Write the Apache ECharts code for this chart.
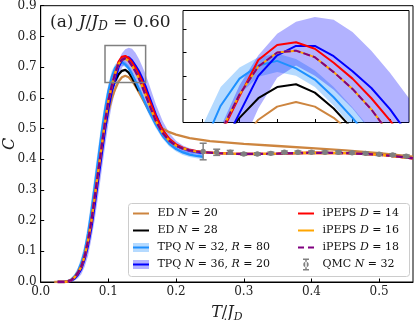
<!DOCTYPE html>
<html>
<head>
<meta charset="utf-8">
<script src="https://cdn.jsdelivr.net/npm/echarts@6/dist/echarts.min.js"></script>
<style>
  html, body { margin: 0; padding: 0; background: #fff; }
  #chart { width: 416px; height: 320px; }
</style>
</head>
<body>
<div id="chart"></div>
<script>
var myChart = echarts.init(document.getElementById("chart"));
var FONT = "DejaVu Serif";

// ---- data ----
var tPEPS = [0.025, 0.03, 0.035, 0.04, 0.045, 0.05, 0.055, 0.06, 0.065, 0.07, 0.075, 0.08, 0.085, 0.09, 0.095, 0.10, 0.105, 0.11, 0.115, 0.12, 0.125, 0.13, 0.135, 0.14, 0.145, 0.15, 0.16, 0.17, 0.18, 0.19, 0.20, 0.21, 0.22, 0.23, 0.24, 0.26, 0.28, 0.30, 0.35, 0.40, 0.45, 0.50, 0.55];
var cPEPS14 = [0, 0, 0, 0.002, 0.006, 0.015, 0.03, 0.05, 0.085, 0.135, 0.2, 0.28, 0.36, 0.44, 0.52, 0.59, 0.637, 0.678, 0.717, 0.733, 0.736, 0.729, 0.714, 0.697, 0.676, 0.652, 0.595, 0.54, 0.495, 0.466, 0.448, 0.437, 0.43, 0.426, 0.423, 0.42, 0.418, 0.417, 0.418, 0.421, 0.42, 0.415, 0.403];
var cPEPS16 = [0, 0, 0, 0.002, 0.006, 0.015, 0.03, 0.05, 0.085, 0.135, 0.2, 0.28, 0.36, 0.44, 0.52, 0.59, 0.64, 0.68, 0.71, 0.725, 0.727, 0.72, 0.704, 0.686, 0.664, 0.637, 0.58, 0.525, 0.486, 0.46, 0.444, 0.435, 0.429, 0.425, 0.423, 0.42, 0.418, 0.417, 0.418, 0.421, 0.42, 0.415, 0.403];
var cPEPS18 = [0, 0, 0, 0.002, 0.006, 0.015, 0.03, 0.05, 0.085, 0.135, 0.2, 0.28, 0.36, 0.44, 0.52, 0.59, 0.64, 0.68, 0.71, 0.725, 0.727, 0.72, 0.704, 0.686, 0.664, 0.637, 0.58, 0.525, 0.486, 0.46, 0.444, 0.435, 0.429, 0.425, 0.423, 0.42, 0.418, 0.417, 0.418, 0.421, 0.42, 0.415, 0.403];

var tTPQ = [0.025, 0.03, 0.035, 0.04, 0.045, 0.05, 0.055, 0.06, 0.065, 0.07, 0.075, 0.08, 0.085, 0.09, 0.095, 0.10, 0.105, 0.11, 0.115, 0.12, 0.125, 0.13, 0.135, 0.14, 0.145, 0.15, 0.155, 0.16, 0.17, 0.18, 0.19, 0.20, 0.21, 0.22, 0.23, 0.24];
var cTPQ32 = [0, 0, 0.001, 0.003, 0.008, 0.018, 0.035, 0.062, 0.1, 0.158, 0.232, 0.315, 0.4, 0.485, 0.56, 0.622, 0.668, 0.697, 0.711, 0.716, 0.708, 0.696, 0.677, 0.655, 0.63, 0.605, 0.58, 0.556, 0.513, 0.477, 0.45, 0.433, 0.422, 0.415, 0.411, 0.408];
var loTPQ32 = [0, 0, 0, 0.001, 0.004, 0.011, 0.024, 0.045, 0.077, 0.125, 0.192, 0.272, 0.355, 0.44, 0.52, 0.59, 0.643, 0.68, 0.699, 0.704, 0.7, 0.688, 0.668, 0.645, 0.618, 0.593, 0.568, 0.544, 0.502, 0.467, 0.441, 0.425, 0.414, 0.407, 0.403, 0.40];
var hiTPQ32 = [0, 0.001, 0.003, 0.006, 0.013, 0.026, 0.047, 0.08, 0.125, 0.19, 0.27, 0.355, 0.44, 0.52, 0.59, 0.645, 0.688, 0.709, 0.72, 0.724, 0.718, 0.706, 0.688, 0.666, 0.642, 0.617, 0.592, 0.568, 0.524, 0.487, 0.459, 0.441, 0.43, 0.423, 0.418, 0.415];
var cTPQ36 = [0, 0, 0, 0.001, 0.004, 0.011, 0.024, 0.043, 0.075, 0.12, 0.18, 0.255, 0.335, 0.415, 0.495, 0.565, 0.62, 0.66, 0.7, 0.722, 0.732, 0.732, 0.721, 0.705, 0.687, 0.664, 0.636, 0.605, 0.545, 0.495, 0.463, 0.445, 0.434, 0.427, 0.423, 0.42];
var loTPQ36 = [0, 0, 0, 0, 0.001, 0.005, 0.012, 0.025, 0.05, 0.085, 0.14, 0.205, 0.28, 0.36, 0.44, 0.515, 0.575, 0.62, 0.665, 0.698, 0.711, 0.70, 0.685, 0.665, 0.64, 0.615, 0.588, 0.56, 0.51, 0.47, 0.447, 0.432, 0.423, 0.418, 0.415, 0.413];
var hiTPQ36 = [0, 0, 0.001, 0.003, 0.009, 0.02, 0.037, 0.062, 0.1, 0.15, 0.215, 0.29, 0.375, 0.46, 0.535, 0.6, 0.645, 0.69, 0.722, 0.745, 0.758, 0.763, 0.76, 0.747, 0.727, 0.703, 0.676, 0.645, 0.58, 0.525, 0.485, 0.46, 0.445, 0.436, 0.43, 0.426];

var tED20 = [0.02, 0.03, 0.035, 0.04, 0.045, 0.05, 0.055, 0.06, 0.065, 0.07, 0.075, 0.08, 0.085, 0.09, 0.095, 0.10, 0.105, 0.11, 0.115, 0.12, 0.125, 0.13, 0.135, 0.14, 0.145, 0.15, 0.16, 0.17, 0.18, 0.19, 0.20, 0.22, 0.25, 0.30, 0.35, 0.40, 0.45, 0.50, 0.55];
var cED20 = [0, 0, 0, 0.002, 0.006, 0.015, 0.03, 0.052, 0.088, 0.138, 0.2, 0.275, 0.355, 0.43, 0.5, 0.555, 0.598, 0.628, 0.653, 0.667, 0.672, 0.667, 0.655, 0.638, 0.618, 0.598, 0.557, 0.523, 0.5, 0.488, 0.48, 0.469, 0.459, 0.45, 0.443, 0.436, 0.429, 0.42, 0.408];
var tED28 = [0.10, 0.105, 0.11, 0.115, 0.12, 0.125, 0.13, 0.135, 0.14, 0.145];
var cED28 = [0.60, 0.628, 0.655, 0.676, 0.688, 0.691, 0.682, 0.665, 0.643, 0.622];

var tQMC = [0.24, 0.26, 0.28, 0.30, 0.32, 0.34, 0.36, 0.38, 0.40, 0.42, 0.44, 0.46, 0.48, 0.50, 0.52, 0.54];
var cQMC = [0.425, 0.4225, 0.4225, 0.417, 0.417, 0.419, 0.4225, 0.4225, 0.4225, 0.4225, 0.4225, 0.421, 0.419, 0.416, 0.414, 0.41];
var eQMC = [0.027, 0.01, 0.006, 0.004, 0.004, 0.004, 0.004, 0.004, 0.004, 0.004, 0.004, 0.004, 0.004, 0.004, 0.004, 0.004];

var mainXTicks = [0, 0.1, 0.2, 0.3, 0.4, 0.5];
var mainYTicks = [0, 0.1, 0.2, 0.3, 0.4, 0.5, 0.6, 0.7, 0.8, 0.9];
var insetXTicks = [0.10, 0.11, 0.12, 0.13, 0.14, 0.15];
var insetYTicks = [0.675, 0.70, 0.725, 0.75];

// legend names (rich text)
var N_ED20 = "ED {i|N} = 20";
var N_ED28 = "ED {i|N} = 28";
var N_TPQ32 = "TPQ {i|N} = 32, {i|R} = 80";
var N_TPQ36 = "TPQ {i|N} = 36, {i|R} = 20";
var N_P14 = "iPEPS {i|D} = 14";
var N_P16 = "iPEPS {i|D} = 16";
var N_P18 = "iPEPS {i|D} = 18";
var N_QMC = "QMC {i|N} = 32";

// ---- helpers ----
function pairs(t, c) {
  return t.map(function (x, i) { return [x, c[i]]; });
}

function curve(name, t, c, color, axis, dashed) {
  return {
    name: name, type: "line", xAxisIndex: axis, yAxisIndex: axis,
    data: pairs(t, c), symbol: "none", color: color, silent: true,
    lineStyle: { color: color, width: axis ? 2 : 2.3, type: dashed ? [7, 3] : "solid" },
    z: axis ? 14 : 4
  };
}

// shaded error band drawn as one polygon through the axes
function band(name, t, lo, hi, color, axis) {
  return {
    name: name, type: "custom", xAxisIndex: axis, yAxisIndex: axis,
    clip: true, silent: true, z: axis ? 12 : 2,
    itemStyle: { color: color },
    data: t.map(function (x, i) { return [x, lo[i], hi[i]]; }),
    renderItem: function (params, api) {
      if (params.dataIndex !== 0) return null;
      var pts = [];
      for (var i = 0; i < t.length; i++) pts.push(api.coord([t[i], hi[i]]));
      for (var j = t.length - 1; j >= 0; j--) pts.push(api.coord([t[j], lo[j]]));
      return { type: "polygon", shape: { points: pts }, style: { fill: color } };
    }
  };
}

function allCurves(axis) {
  return [
    band("TPQ32band", tTPQ, loTPQ32, hiTPQ32, "rgba(30,144,255,0.33)", axis),
    band("TPQ36band", tTPQ, loTPQ36, hiTPQ36, "rgba(0,0,255,0.3)", axis),
    curve(N_ED20, tED20, cED20, "#cd853f", axis),
    curve(N_ED28, tED28, cED28, "#000000", axis),
    curve(N_TPQ32, tTPQ, cTPQ32, "#1e90ff", axis),
    curve(N_TPQ36, tTPQ, cTPQ36, "#0000ff", axis),
    curve(N_P14, tPEPS, cPEPS14, "#ff0000", axis),
    curve(N_P16, tPEPS, cPEPS16, "#ffa500", axis),
    curve(N_P18, tPEPS, cPEPS18, "#800080", axis, true)
  ];
}

var series = allCurves(0);
// zoom rectangle on the main panel
series[series.length - 1].markArea = {
  silent: true, z: 30,
  itemStyle: { color: "rgba(0,0,0,0)", borderColor: "#808080", borderWidth: 1.5 },
  data: [[{ coord: [0.095, 0.65] }, { coord: [0.155, 0.77] }]]
};
series.push({
  name: N_QMC, type: "custom", xAxisIndex: 0, yAxisIndex: 0, z: 20, silent: true,
  itemStyle: { color: "#808080" },
  data: tQMC.map(function (t, i) { return [t, cQMC[i], eQMC[i]]; }),
  renderItem: function (params, api) {
    var x = api.value(0), y = api.value(1), e = api.value(2);
    var p = api.coord([x, y]);
    var top = api.coord([x, y + e])[1];
    var bot = api.coord([x, y - e])[1];
    var st = { stroke: "#808080", lineWidth: 1.5 };
    return {
      type: "group",
      children: [
        { type: "line", shape: { x1: p[0], y1: top, x2: p[0], y2: bot }, style: st },
        { type: "line", shape: { x1: p[0] - 3.5, y1: top, x2: p[0] + 3.5, y2: top }, style: st },
        { type: "line", shape: { x1: p[0] - 3.5, y1: bot, x2: p[0] + 3.5, y2: bot }, style: st },
        { type: "circle", shape: { cx: p[0], cy: p[1], r: 2.7 }, style: { fill: "#808080" } }
      ]
    };
  }
});
series = series.concat(allCurves(1));

// legend icons
var lineIcon = "path://M0,0H16V2H0Z";
var dashIcon = "path://M0,0H6V2H0ZM10,0H16V2H10Z";
var bandIcon = "path://M0,0H16V9H0Z";
var errIcon = "path://M5,0H11V1.5H5ZM7.25,1.5H8.75V10.5H7.25ZM5,10.5H11V12H5ZM5.3,6A2.7,2.7 0 1,0 10.7,6A2.7,2.7 0 1,0 5.3,6Z";

var legendText = {
  fontFamily: FONT, fontSize: 11, lineHeight: 17, color: "#111",
  rich: { i: { fontFamily: FONT, fontSize: 11, lineHeight: 17, fontStyle: "italic", color: "#111" } }
};
function legendBox(left, top, items, z, text) {
  return {
    orient: "vertical", left: left, top: top, padding: 0, itemGap: 0,
    itemWidth: 16, itemHeight: 12, selectedMode: false, z: z,
    itemStyle: { borderWidth: 0, opacity: 1 },
    textStyle: text || legendText,
    formatter: function (name) { return " " + name; },
    data: items
  };
}

var tickLabel = { fontFamily: FONT, fontSize: 12, color: "#222" };
var nameStyle = {
  fontFamily: FONT, fontSize: 16, color: "#222", lineHeight: 20,
  rich: {
    i: { fontFamily: FONT, fontSize: 16, fontStyle: "italic", lineHeight: 20, color: "#222" },
    s: { fontFamily: FONT, fontSize: 11, fontStyle: "italic", lineHeight: 11, verticalAlign: "bottom", color: "#222" }
  }
};

var option = {
  animation: false,
  grid: [
    { left: 40.7, right: 3, top: 5.7, bottom: 38, outerBoundsMode: "none", show: true, borderColor: "#000", borderWidth: 1, z: 0 },
    { left: 183, top: 10.5, width: 226, height: 112, outerBoundsMode: "none", show: true, backgroundColor: "#fff", borderColor: "#000", borderWidth: 1, z: 10 }
  ],
  xAxis: [
    {
      type: "value", gridIndex: 0, min: 0, max: 0.55,
      name: "{i|T}/{i|J}{s|D}", nameLocation: "middle", nameGap: 16, nameTextStyle: nameStyle,
      axisLine: { show: true, lineStyle: { color: "#000", width: 1 } },
      axisTick: { inside: true, length: 3.5, customValues: mainXTicks, lineStyle: { color: "#000" } },
      axisLabel: Object.assign({ margin: 4, customValues: mainXTicks, formatter: function (v) { return v.toFixed(1); } }, tickLabel),
      splitLine: { show: false }
    },
    {
      type: "value", gridIndex: 1, min: 0.095, max: 0.155, z: 11,
      axisLine: { show: false },
      axisTick: { inside: true, length: 3.5, customValues: insetXTicks, lineStyle: { color: "#000" } },
      axisLabel: { show: false }, splitLine: { show: false }
    }
  ],
  yAxis: [
    {
      type: "value", gridIndex: 0, min: 0, max: 0.9,
      name: "{i|C}", nameLocation: "middle", nameGap: 21, nameMoveOverlap: false, nameTextStyle: nameStyle,
      axisLine: { show: true, lineStyle: { color: "#000", width: 1 } },
      axisTick: { inside: true, length: 3.5, customValues: mainYTicks, lineStyle: { color: "#000" } },
      axisLabel: Object.assign({ margin: 4, customValues: mainYTicks, formatter: function (v) { return v.toFixed(1); } }, tickLabel),
      splitLine: { show: false }
    },
    {
      type: "value", gridIndex: 1, min: 0.65, max: 0.77, z: 11,
      axisLine: { show: false },
      axisTick: { inside: true, length: 3.5, customValues: insetYTicks, lineStyle: { color: "#000" } },
      axisLabel: { show: false }, splitLine: { show: false }
    }
  ],
  legend: [
    legendBox(133, 205, [
      { name: N_ED20, icon: lineIcon }, { name: N_ED28, icon: lineIcon },
      { name: N_TPQ32, icon: lineIcon }, { name: N_TPQ36, icon: lineIcon }
    ], 6),
    legendBox(298, 205, [
      { name: N_P14, icon: lineIcon }, { name: N_P16, icon: lineIcon },
      { name: N_P18, icon: dashIcon }, { name: N_QMC, icon: errIcon }
    ], 6),
    legendBox(133, 239, [
      { name: "TPQ32band", icon: bandIcon }, { name: "TPQ36band", icon: bandIcon }
    ], 5, { fontFamily: FONT, fontSize: 11, lineHeight: 17, color: "rgba(0,0,0,0)" })
  ],
  graphic: [
    {
      type: "rect", left: 128, top: 203, z: 3, silent: true,
      shape: { width: 281, height: 73, r: 3 },
      style: { fill: "rgba(255,255,255,0.85)", stroke: "#cccccc", lineWidth: 1 }
    },
    {
      type: "text", left: 50, top: 13, z: 20, silent: true,
      style: {
        text: "(a) {i|J}/{i|J}{s|D} = 0.60",
        font: "17px 'DejaVu Serif'", fill: "#222", lineHeight: 20,
        rich: {
          i: { fontFamily: FONT, fontSize: 17, fontStyle: "italic", lineHeight: 20, fill: "#222" },
          s: { fontFamily: FONT, fontSize: 12, fontStyle: "italic", lineHeight: 12, verticalAlign: "bottom", fill: "#222" }
        }
      }
    }
  ],
  series: series
};

myChart.setOption(option);
</script>
</body>
</html>
